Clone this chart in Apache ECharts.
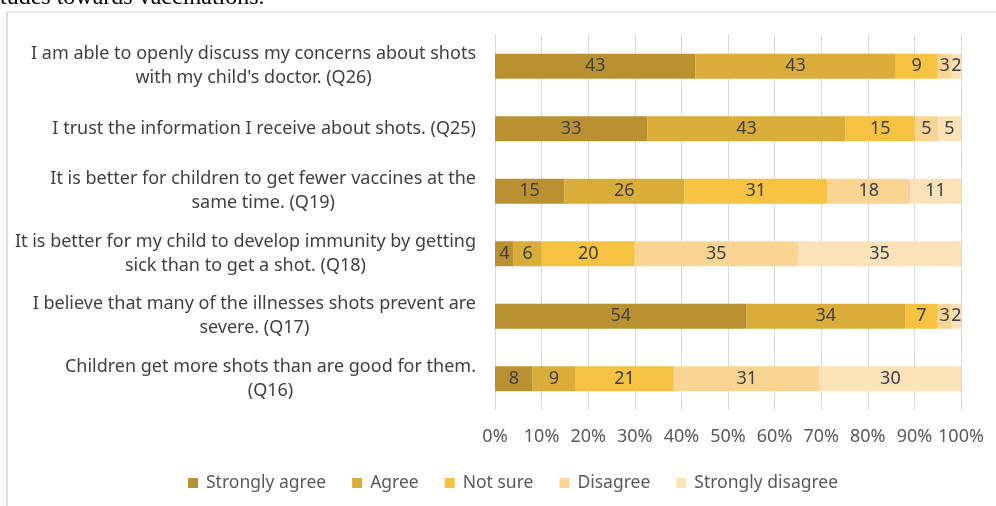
<!DOCTYPE html>
<html>
<head>
<meta charset="utf-8">
<style>
html,body{margin:0;padding:0;background:#fff;}
#chart{width:996px;height:506px;}
</style>
<script src="https://cdn.jsdelivr.net/npm/echarts@6/dist/echarts.min.js"></script>
</head>
<body>
<div id="chart"></div>
<script>
const categories = [
  "I am able to openly discuss my concerns about shots\nwith my child's doctor. (Q26)",
  "I trust the information I receive about shots. (Q25)",
  "It is better for children to get fewer vaccines at the\nsame time. (Q19)",
  "It is better for my child to develop immunity by getting\nsick than to get a shot. (Q18)",
  "I believe that many of the illnesses shots prevent are\nsevere. (Q17)",
  "Children get more shots than are good for them.\n(Q16)"
];
const seriesNames = ["Strongly agree", "Agree", "Not sure", "Disagree", "Strongly disagree"];
const stronglyAgree    = [43, 33, 15, 4, 54, 8];
const agree            = [43, 43, 26, 6, 34, 9];
const notSure          = [9, 15, 31, 20, 7, 21];
const disagree         = [3, 5, 18, 35, 3, 31];
const stronglyDisagree = [2, 5, 11, 35, 2, 30];
const tickLabels = ["0%","10%","20%","30%","40%","50%","60%","70%","80%","90%","100%"];
const colors = ["#B99130", "#DAAC3A", "#F5C241", "#F9D492", "#FBE2B9"];

const raw = [stronglyAgree, agree, notSure, disagree, stronglyDisagree];
const totals = categories.map((_, i) => raw.reduce((s, arr) => s + arr[i], 0));

const FONT = "Noto Sans";
const FS = 18;
const chart = echarts.init(document.getElementById('chart'));
chart.setOption({
  animation: false,
  textStyle: { fontFamily: FONT },
  graphic: [
    { type: 'text', left: 0, top: -14, style: { text: 'tudes towards vaccinations.', font: '24px "Liberation Serif"', fill: '#000' } },
    { type: 'line', shape: { x1: 7, y1: 12, x2: 996, y2: 12 }, style: { stroke: '#E3E3E3', lineWidth: 1.5 } },
    { type: 'line', shape: { x1: 7, y1: 12, x2: 7, y2: 506 }, style: { stroke: '#DDDDDD', lineWidth: 2 } }
  ],
  grid: { left: 495, right: 35, top: 35, bottom: 96, containLabel: false },
  legend: {
    left: 183, top: 469,
    itemWidth: 10, itemHeight: 10, itemGap: 26,
    icon: 'rect',
    textStyle: { fontSize: 17.5, color: '#595959', fontFamily: FONT, padding: [0, 0, 0, 3] },
    data: seriesNames
  },
  xAxis: {
    type: 'value', min: 0, max: 100, interval: 10,
    axisLine: { show: false }, axisTick: { show: false },
    splitLine: { lineStyle: { color: '#D9D9D9', width: 1 } },
    axisLabel: {
      margin: 18, fontSize: FS, color: '#595959', fontFamily: FONT,
      formatter: (v) => tickLabels[Math.round(v / 10)]
    }
  },
  yAxis: {
    type: 'category', inverse: true, data: categories,
    axisLine: { show: false }, axisTick: { show: false },
    axisLabel: {
      margin: 19, fontSize: FS, color: '#404040', fontFamily: FONT, align: 'right',
      lineHeight: 24,
      formatter: (v) => v.split('\n').map(l => '{c|' + l + '}').join('\n'),
      rich: { c: { align: 'center', fontSize: FS, color: '#404040', fontFamily: FONT, lineHeight: 24 } }
    }
  },
  series: seriesNames.map((name, si) => ({
    name, type: 'bar', stack: 'total', barWidth: 25,
    itemStyle: { color: colors[si] },
    label: {
      show: true, position: 'inside', fontSize: FS, color: '#404040', fontFamily: FONT,
      formatter: (p) => String(raw[si][p.dataIndex])
    },
    data: raw[si].map((v, i) => v / totals[i] * 100)
  }))
});
</script>
</body>
</html>
